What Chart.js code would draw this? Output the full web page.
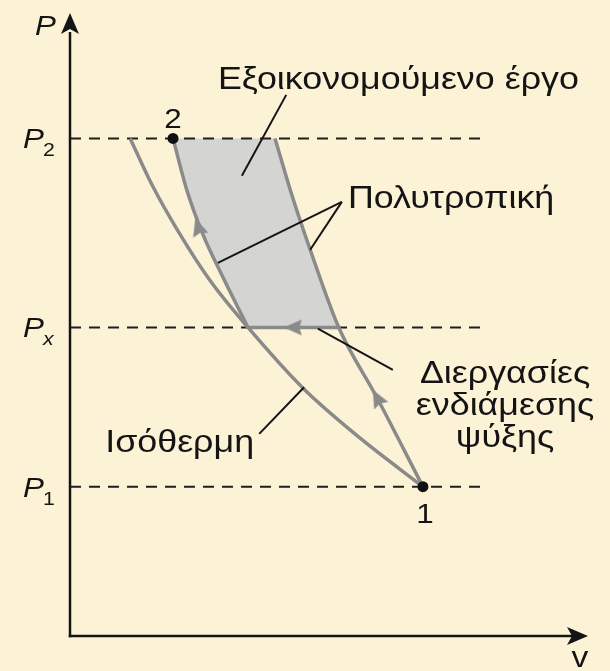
<!DOCTYPE html>
<html><head><meta charset="utf-8">
<script src="https://cdn.jsdelivr.net/npm/chart.js@4.4.0/dist/chart.umd.min.js"></script>
<style>html,body{margin:0;padding:0;background:#fcf3d7;} canvas{display:block;}</style>
</head><body>
<canvas id="c" width="610" height="671"></canvas>
<script>
// ---- data (schematic P–v values) ----
const pressureLevels = [2.40, 4.96, 8.00];          // P1, Px, P2
const pressureLabels = ['1', 'x', '2'];             // subscripts of P
const state1 = [6.92, 2.40];                        // v, P
const state2 = [2.02, 8.00];
const isothermV = [1.18, 1.61, 2.14, 2.75, 3.49, 4.55, 5.69, 6.92];
const isothermP = [8.00, 7.25, 6.48, 5.71, 4.96, 4.00, 3.18, 2.40];
const polyOneV  = [4.02, 4.35, 4.71, 5.27, 6.02, 6.92];
const polyOneP  = [8.00, 7.09, 6.21, 4.96, 3.83, 2.40];
const polyTwoV  = [2.02, 2.29, 2.61, 2.98, 3.49];
const polyTwoP  = [8.00, 7.17, 6.45, 5.80, 4.96];
const dashEndV = 8.1;
// arrows: [v, P, rotation deg]
const arrowV = [2.51, 4.37, 6.02];
const arrowP = [6.58, 4.96, 3.83];
const arrowRot = [-18, -90, -28];
// text annotations
const notes = [
  {text: 'Εξοικονομούμενο έργο', v: 2.90, p: 8.79, align: 'left', from: [4.24, 8.70], to: [[3.37, 7.40]]},
  {text: 'Πολυτροπική', v: 5.45, p: 6.88, align: 'left', from: [5.33, 6.98], to: [[2.90, 6.00], [4.71, 6.21]]},
  {text: 'Διεργασίες\nενδιάμεσης\nψύξης', v: 8.53, p: 4.07, align: 'center', from: [6.33, 4.28], to: [[4.86, 4.94]]},
  {text: 'Ισόθερμη', v: 0.69, p: 2.96, align: 'left', from: [3.71, 3.25], to: [[4.59, 4.00]]}
];

const GRAY = '#8a8a8a';
const FONT = '"Liberation Sans", Arial, sans-serif';
const SX = 1.12;   // horizontal stretch of lettering in the figure
const zip = (xs, ys) => xs.map((x, i) => ({x, y: ys[i]}));

// arrow head image
function arrowImg() {
  const c = document.createElement('canvas');
  c.width = 20; c.height = 20;
  const g = c.getContext('2d');
  g.fillStyle = GRAY;
  g.beginPath();
  g.moveTo(10, 1); g.lineTo(18, 19); g.lineTo(10, 16.5); g.lineTo(2, 19); g.closePath();
  g.fill();
  return c;
}
const AH = arrowImg();

const shadeV = polyTwoV.concat(polyOneV.slice(0, 4).reverse());
const shadeP = polyTwoP.concat(polyOneP.slice(0, 4).reverse());

const curve = (xs, ys) => ({data: zip(xs, ys), showLine: true, borderColor: GRAY, borderWidth: 3.5,
  pointRadius: 0, cubicInterpolationMode: 'monotone', order: 10});

const datasets = [];
datasets.push({data: zip(shadeV, shadeP), showLine: true, fill: 'shape', backgroundColor: '#d4d4d2',
  borderWidth: 0, pointRadius: 0, tension: 0, order: 20});
pressureLevels.forEach(p => datasets.push({data: [{x: 0, y: p}, {x: dashEndV, y: p}], showLine: true,
  borderColor: '#1e1e1e', borderWidth: 2, borderDash: [11, 8], pointRadius: 0, order: 15}));
datasets.push(curve(isothermV, isothermP));
datasets.push(curve(polyOneV, polyOneP));
datasets.push(curve(polyTwoV, polyTwoP));
datasets.push({data: [{x: polyTwoV[polyTwoV.length - 1], y: pressureLevels[1]}, {x: polyOneV[3], y: pressureLevels[1]}],
  showLine: true, borderColor: GRAY, borderWidth: 3.5, pointRadius: 0, order: 9});
notes.forEach(n => n.to.forEach(t => datasets.push({data: [{x: n.from[0], y: n.from[1]}, {x: t[0], y: t[1]}],
  showLine: true, borderColor: '#151515', borderWidth: 2, pointRadius: 0, order: 8})));
datasets.push({data: zip(arrowV, arrowP), showLine: false, pointStyle: AH, rotation: arrowRot,
  pointRadius: 10, order: 5});
datasets.push({data: [{x: state1[0], y: state1[1]}, {x: state2[0], y: state2[1]}], showLine: false,
  pointStyle: 'circle', pointRadius: 5.5, backgroundColor: '#111', borderColor: '#111', borderWidth: 0, order: 1});

function txt(ctx, s, x, y, align) {
  ctx.save(); ctx.translate(x, y); ctx.scale(SX, 1); ctx.textAlign = align; ctx.fillText(s, 0, 0); ctx.restore();
}

const decor = {
  id: 'decor',
  beforeDraw(chart) {
    const ctx = chart.ctx;
    ctx.save(); ctx.fillStyle = '#fcf3d7'; ctx.fillRect(0, 0, chart.width, chart.height); ctx.restore();
  },
  afterDatasetsDraw(chart) {
    const ctx = chart.ctx, a = chart.chartArea, X = chart.scales.x, Y = chart.scales.y;
    ctx.save();
    ctx.strokeStyle = '#141414'; ctx.fillStyle = '#141414'; ctx.lineWidth = 2.5;
    const ox = X.getPixelForValue(0), oy = Y.getPixelForValue(0);
    ctx.beginPath(); ctx.moveTo(ox, oy + 1.2); ctx.lineTo(ox, a.top + 18); ctx.stroke();
    ctx.beginPath(); ctx.moveTo(ox - 1.2, oy); ctx.lineTo(a.right - 6, oy); ctx.stroke();
    const ty = a.top - 1;
    ctx.beginPath(); ctx.moveTo(ox, ty); ctx.lineTo(ox + 9, ty + 21); ctx.lineTo(ox, ty + 16); ctx.lineTo(ox - 9, ty + 21); ctx.closePath(); ctx.fill();
    const tx = a.right + 8;
    ctx.beginPath(); ctx.moveTo(tx, oy); ctx.lineTo(tx - 21, oy + 9); ctx.lineTo(tx - 16, oy); ctx.lineTo(tx - 21, oy - 9); ctx.closePath(); ctx.fill();
    ctx.fillStyle = '#141414';
    ctx.textBaseline = 'alphabetic';
    ctx.font = 'italic 28px ' + FONT;
    txt(ctx, 'P', ox - 35, a.top + 21, 'left');
    ctx.font = '30px ' + FONT;
    txt(ctx, 'v', a.right, oy + 31, 'center');
    pressureLevels.forEach((p, i) => {
      const y = Y.getPixelForValue(p);
      const sub = pressureLabels[i];
      ctx.font = (sub === 'x' ? 'italic ' : '') + '19px ' + FONT;
      txt(ctx, sub, ox - 27, y + 18, 'left');
      ctx.font = 'italic 28px ' + FONT;
      txt(ctx, 'P', ox - 47, y + 10, 'left');
    });
    ctx.font = '28px ' + FONT;
    txt(ctx, '1', X.getPixelForValue(state1[0]) + 2, Y.getPixelForValue(state1[1]) + 36, 'center');
    txt(ctx, '2', X.getPixelForValue(state2[0]), Y.getPixelForValue(state2[1]) - 10, 'center');
    ctx.font = '32px ' + FONT;
    notes.forEach(n => {
      const x = X.getPixelForValue(n.v), y = Y.getPixelForValue(n.p);
      n.text.split('\n').forEach((line, k) => txt(ctx, line, x, y + k * 32, n.align));
    });
    ctx.restore();
  }
};

new Chart(document.getElementById('c'), {
  type: 'scatter',
  data: {datasets},
  options: {
    responsive: false, animation: false, events: [],
    layout: {padding: {left: 70, right: 30, top: 14, bottom: 35}},
    plugins: {legend: {display: false}, tooltip: {enabled: false}},
    scales: {
      x: {type: 'linear', min: 0, max: 10, display: false},
      y: {type: 'linear', min: 0, max: 10, display: false}
    }
  },
  plugins: [decor]
});
</script>
</body></html>
